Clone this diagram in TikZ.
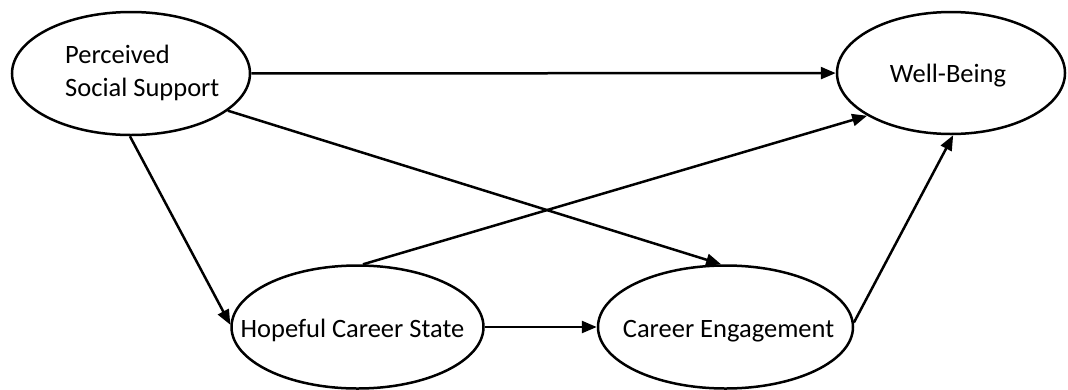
\documentclass[tikz,border=0pt]{standalone}
\usepackage{fontspec}
\setmainfont{Carlito}
\usetikzlibrary{shapes.geometric,arrows.meta}
\begin{document}
\begin{tikzpicture}[x=1pt,y=-1pt,
  construct/.style={draw,ellipse,line width=2.5pt,inner sep=0pt},
  pathway/.style={line width=2.5pt,-{Triangle[length=15pt,width=12pt]}},
  lbl/.style={font=\fontsize{26.5}{33}\selectfont,inner sep=0pt,align=left}]
\useasboundingbox (0,0) rectangle (1068,389);

% latent constructs (outlines)
\node[construct,minimum width=238pt,minimum height=123pt] (pss) at (131,73.5) {};
\node[construct,minimum width=228pt,minimum height=122pt] (wb) at (951,73) {};
\node[construct,minimum width=252pt,minimum height=123pt] (hcs) at (357.5,327) {};
\node[construct,minimum width=255pt,minimum height=123pt] (ce) at (725.5,327) {};

% construct names
\node[lbl,anchor=base west] (psstext) at (65,96) {Perceived\\Social Support};
\node[lbl,anchor=base] (wbtext) at (948,82) {Well-Being};
\node[lbl,anchor=base] (hcstext) at (352.5,337) {Hopeful Career State};
\node[lbl,anchor=base] (cetext) at (728.5,337) {Career Engagement};

% structural paths
\draw[pathway] (pss) -- (wb);
\draw[pathway] (pss.-21) -- (ce.94);
\draw[pathway] (pss.-91) -- (hcs.179);
\draw[pathway] (hcs.85) -- (wb.207);
\draw[pathway] (hcs) -- (ce);
\draw[pathway] (ce.2) -- (wb.-88);
\end{tikzpicture}
\end{document}
